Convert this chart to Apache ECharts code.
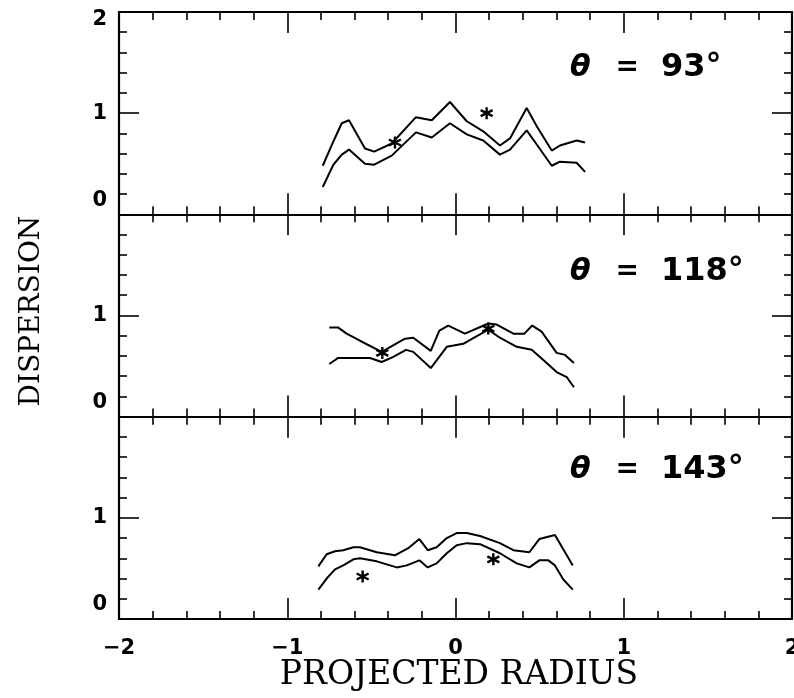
<!DOCTYPE html>
<html>
<head>
<meta charset="utf-8">
<script src="https://cdn.jsdelivr.net/npm/echarts@6/dist/echarts.min.js"></script>
<style>
  html, body { margin: 0; padding: 0; background: #fff; }
  #chart { width: 794px; height: 698px; }
</style>
</head>
<body>
<div id="chart"></div>
<script>
// panel titles (theta in degrees)
const angles = ['93', '118', '143'];

// theta = 93 panel
const upper93X = [-0.789, -0.726, -0.676, -0.633, -0.538, -0.483, -0.379, -0.235, -0.141, -0.033, 0.067, 0.165, 0.264, 0.324, 0.423, 0.483, 0.572, 0.621, 0.720, 0.770];
const upper93Y = [0.48, 0.72, 0.90, 0.93, 0.65, 0.62, 0.70, 0.96, 0.93, 1.11, 0.92, 0.82, 0.68, 0.75, 1.05, 0.87, 0.63, 0.68, 0.73, 0.71];
const lower93X = upper93X;
const lower93Y = [0.27, 0.49, 0.59, 0.64, 0.50, 0.49, 0.58, 0.81, 0.76, 0.90, 0.79, 0.73, 0.59, 0.64, 0.83, 0.69, 0.48, 0.52, 0.51, 0.42];
const stars93X = [-0.360, 0.185];
const stars93Y = [0.71, 1.00];

// theta = 118 panel
const upper118X = [-0.750, -0.697, -0.647, -0.568, -0.439, -0.300, -0.251, -0.147, -0.096, -0.043, 0.056, 0.195, 0.245, 0.344, 0.409, 0.456, 0.512, 0.601, 0.651, 0.704];
const upper118Y = [0.88, 0.88, 0.82, 0.75, 0.64, 0.77, 0.78, 0.65, 0.85, 0.90, 0.82, 0.92, 0.91, 0.82, 0.82, 0.90, 0.84, 0.63, 0.61, 0.53];
const lower118X = [-0.750, -0.697, -0.508, -0.439, -0.370, -0.294, -0.251, -0.147, -0.052, 0.046, 0.195, 0.264, 0.364, 0.453, 0.522, 0.601, 0.661, 0.704];
const lower118Y = [0.52, 0.58, 0.58, 0.54, 0.59, 0.66, 0.64, 0.48, 0.69, 0.72, 0.86, 0.78, 0.69, 0.66, 0.56, 0.44, 0.39, 0.29];
const stars118X = [-0.435, 0.195];
const stars118Y = [0.63, 0.87];

// theta = 143 panel
const upper143X = [-0.815, -0.766, -0.716, -0.667, -0.607, -0.568, -0.468, -0.360, -0.281, -0.215, -0.165, -0.112, -0.052, 0.007, 0.067, 0.146, 0.264, 0.344, 0.439, 0.498, 0.591, 0.697];
const upper143Y = [0.52, 0.64, 0.67, 0.68, 0.71, 0.71, 0.66, 0.63, 0.70, 0.79, 0.68, 0.71, 0.80, 0.85, 0.85, 0.82, 0.75, 0.68, 0.66, 0.79, 0.83, 0.53];
const lower143X = [-0.815, -0.766, -0.716, -0.667, -0.607, -0.568, -0.468, -0.349, -0.290, -0.215, -0.165, -0.112, -0.052, 0.007, 0.067, 0.146, 0.264, 0.364, 0.439, 0.498, 0.552, 0.591, 0.641, 0.697];
const lower143Y = [0.29, 0.40, 0.49, 0.53, 0.59, 0.60, 0.57, 0.51, 0.53, 0.58, 0.51, 0.55, 0.65, 0.73, 0.75, 0.74, 0.65, 0.55, 0.51, 0.58, 0.58, 0.53, 0.39, 0.29];
const stars143X = [-0.552, 0.225];
const stars143Y = [0.42, 0.59];

const panels = [
  { upper: [upper93X, upper93Y], lower: [lower93X, lower93Y], stars: [stars93X, stars93Y] },
  { upper: [upper118X, upper118Y], lower: [lower118X, lower118Y], stars: [stars118X, stars118Y] },
  { upper: [upper143X, upper143Y], lower: [lower143X, lower143Y], stars: [stars143X, stars143Y] }
];

const zip = (xs, ys) => xs.map((x, i) => [x, ys[i]]);

const chart = echarts.init(document.getElementById('chart'));

const gridTops = [12, 214.3, 416.7];
const gridHeight = 202.3;
const titleY = [68, 272, 470];

const lineBlack = { color: '#000', width: 2.2 };
const tickStyle = { color: '#000', width: 1.6 };
const numFont = { fontFamily: 'DejaVu Sans', fontWeight: 'bold', fontSize: 21, color: '#000' };

const grids = [];
const xAxes = [];
const yAxes = [];
const series = [];
const graphics = [];

const asterisk = 'path://M5,0L5,10M0.67,2.5L9.33,7.5M0.67,7.5L9.33,2.5';

panels.forEach((p, i) => {
  grids.push({ left: 119, width: 673, top: gridTops[i], height: gridHeight, containLabel: false, outerBoundsMode: 'none' });

  const baseX = {
    type: 'value', gridIndex: i, min: -2, max: 2, interval: 1,
    axisLine: { onZero: false, lineStyle: lineBlack },
    axisTick: { inside: true, length: 21, lineStyle: tickStyle },
    minorTick: { show: true, splitNumber: 5, length: 8, lineStyle: tickStyle },
    splitLine: { show: false }
  };
  xAxes.push(Object.assign({}, baseX, {
    position: 'bottom',
    axisLabel: i === 2 ? Object.assign({
      margin: 19,
      formatter: v => (v < 0 ? '\u2212' : '') + Math.abs(v)
    }, numFont) : { show: false }
  }));
  xAxes.push(Object.assign({}, baseX, { position: 'top', axisLabel: { show: false } }));

  const baseY = {
    type: 'value', gridIndex: i, min: 0, max: 2, interval: 1,
    axisLine: { onZero: false, lineStyle: lineBlack },
    axisTick: { inside: true, length: 20, lineStyle: tickStyle },
    minorTick: { show: true, splitNumber: 5, length: 8, lineStyle: tickStyle },
    splitLine: { show: false }
  };
  yAxes.push(Object.assign({}, baseY, {
    position: 'left',
    axisLabel: Object.assign({
      margin: 12,
      formatter: v => {
        if (v === 0) return '{z|0}';
        if (v === 2) return i === 0 ? '{t|2}' : '';
        return '{n|' + v + '}';
      },
      rich: {
        z: Object.assign({ padding: [0, 0, 28, 0] }, numFont),
        t: Object.assign({ padding: [16, 0, 0, 0] }, numFont),
        n: Object.assign({}, numFont)
      }
    }, numFont)
  }));
  yAxes.push(Object.assign({}, baseY, { position: 'right', axisLabel: { show: false } }));

  ['upper', 'lower'].forEach(k => {
    series.push({
      type: 'line', xAxisIndex: 2 * i, yAxisIndex: 2 * i,
      data: zip(p[k][0], p[k][1]),
      showSymbol: false, symbol: 'none', silent: true,
      lineStyle: { color: '#000', width: 2 }
    });
  });
  series.push({
    type: 'scatter', xAxisIndex: 2 * i, yAxisIndex: 2 * i,
    data: zip(p.stars[0], p.stars[1]),
    symbol: asterisk, symbolSize: 12,
    itemStyle: { color: 'none', borderColor: '#000', borderWidth: 2.4, opacity: 1 }
  });

  graphics.push({
    type: 'text', x: 570, y: titleY[i],
    style: {
      text: '{t|\u03b8}{e|=}{n|' + angles[i] + '\u00b0}',
      verticalAlign: 'middle',
      rich: {
        t: { fontFamily: 'DejaVu Sans', fontStyle: 'italic', fontWeight: 'bold', fontSize: 30, fill: '#000', padding: [0, 25, 0, 0] },
        e: { fontFamily: 'DejaVu Sans', fontWeight: 'bold', fontSize: 28, fill: '#000', padding: [0, 22, 0, 0] },
        n: { fontFamily: 'DejaVu Sans', fontWeight: 'bold', fontSize: 32, fill: '#000' }
      }
    }
  });
});

// axis titles
graphics.push({
  type: 'text', x: 32, y: 311, rotation: Math.PI / 2,
  style: { text: 'DISPERSION', fontFamily: 'DejaVu Serif', fontSize: 28, fill: '#000', align: 'center', verticalAlign: 'middle' }
});
graphics.push({
  type: 'text', x: 459, y: 675,
  style: { text: 'PROJECTED RADIUS', fontFamily: 'DejaVu Serif', fontSize: 33, fill: '#000', align: 'center', verticalAlign: 'middle' }
});

chart.setOption({
  animation: false,
  backgroundColor: '#fff',
  grid: grids,
  xAxis: xAxes,
  yAxis: yAxes,
  series: series,
  graphic: graphics
});
</script>
</body>
</html>
